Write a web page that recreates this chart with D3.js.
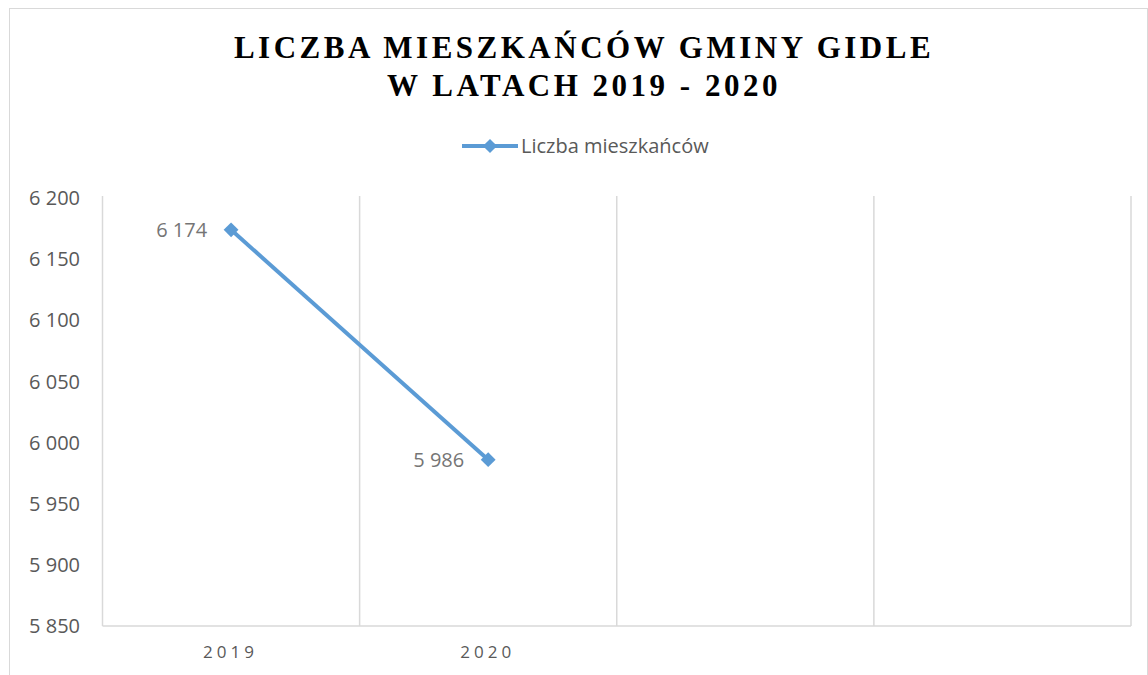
<!DOCTYPE html>
<html><head><meta charset="utf-8">
<script src="https://cdn.jsdelivr.net/npm/d3@7"></script>
<style>body{margin:0;background:#fff}svg{display:block}</style>
</head><body>
<script>
const titleLines = ["LICZBA MIESZKAŃCÓW GMINY GIDLE", "W LATACH 2019 - 2020"];
const seriesName = "Liczba mieszkańców";
const xLabels = ["2019", "2020", "", ""];
const values = [6174, 5986];
const yTicks = [5850, 5900, 5950, 6000, 6050, 6100, 6150, 6200];

const W = 1148, H = 675;
const FONT = "'Open Sans', 'Liberation Sans', Arial, sans-serif";
const svg = d3.select("body").append("svg").attr("width", W).attr("height", H);
svg.append("rect").attr("x", 9.5).attr("y", 8.5).attr("width", W - 10).attr("height", H)
  .attr("fill", "#fff").attr("stroke", "#d9d9d9");

const m = {l: 102.5, r: 1131, t: 198, b: 626};
const x = d3.scaleBand().domain(d3.range(xLabels.length)).range([m.l, m.r]).padding(0);
const y = d3.scaleLinear().domain([d3.min(yTicks), d3.max(yTicks)]).range([m.b, m.t]);
const fmt = v => d3.format(",")(v).replace(/,/g, " ");

// vertical gridlines at band boundaries
const bounds = d3.range(xLabels.length + 1).map(i => m.l + i * x.step());
svg.append("g").selectAll("line").data(bounds).join("line")
  .attr("x1", d => d).attr("x2", d => d).attr("y1", m.t - 2).attr("y2", m.b)
  .attr("stroke", "#d9d9d9").attr("stroke-width", 1.5);
svg.append("line").attr("x1", m.l).attr("x2", m.r).attr("y1", m.b).attr("y2", m.b)
  .attr("stroke", "#d9d9d9").attr("stroke-width", 1.5);

// y axis labels
svg.append("g").selectAll("text").data(yTicks).join("text")
  .attr("x", 80).attr("y", d => y(d)).attr("dy", "0.36em").attr("text-anchor", "end")
  .attr("font-family", FONT).attr("font-size", 20)
  .attr("fill", "#595959").text(fmt);

// x axis labels
svg.append("g").selectAll("text").data(xLabels).join("text")
  .attr("x", (d, i) => x(i) + x.bandwidth() / 2 - 0.5).attr("y", 658)
  .attr("text-anchor", "middle").attr("letter-spacing", 4)
  .attr("font-family", FONT).attr("font-size", 17)
  .attr("fill", "#595959").text(d => d);

// line
const cx = i => x(i) + x.bandwidth() / 2;
svg.append("path").datum(values)
  .attr("d", d3.line().x((d, i) => cx(i)).y(d => y(d)))
  .attr("fill", "none").attr("stroke", "#5B9BD5").attr("stroke-width", 4);
svg.append("g").selectAll("path").data(values).join("path")
  .attr("transform", (d, i) => `translate(${cx(i)},${y(d)}) rotate(45)`)
  .attr("d", d3.symbol().type(d3.symbolSquare).size(110)).attr("fill", "#5B9BD5");

// data labels
svg.append("g").selectAll("text").data(values).join("text")
  .attr("x", (d, i) => cx(i) - 24).attr("y", d => y(d)).attr("dy", "0.36em")
  .attr("text-anchor", "end").attr("font-family", FONT)
  .attr("font-size", 20).attr("fill", "#757575").text(fmt);

// title
svg.append("g").selectAll("text").data(titleLines).join("text")
  .attr("x", 584).attr("y", (d, i) => 58 + i * 38).attr("text-anchor", "middle")
  .attr("font-family", "'Liberation Serif', 'Times New Roman', serif").attr("font-weight", "bold")
  .attr("font-size", 31).attr("letter-spacing", 3.5).attr("fill", "#000").text(d => d);

// legend
const lg = svg.append("g");
lg.append("line").attr("x1", 462).attr("x2", 518).attr("y1", 146).attr("y2", 146)
  .attr("stroke", "#5B9BD5").attr("stroke-width", 4);
lg.append("path").attr("transform", "translate(490,146) rotate(45)")
  .attr("d", d3.symbol().type(d3.symbolSquare).size(100)).attr("fill", "#5B9BD5");
lg.append("text").attr("x", 521).attr("y", 146).attr("dy", "0.36em")
  .attr("font-family", FONT).attr("font-size", 20)
  .attr("fill", "#595959").text(seriesName);
</script>
</body></html>
